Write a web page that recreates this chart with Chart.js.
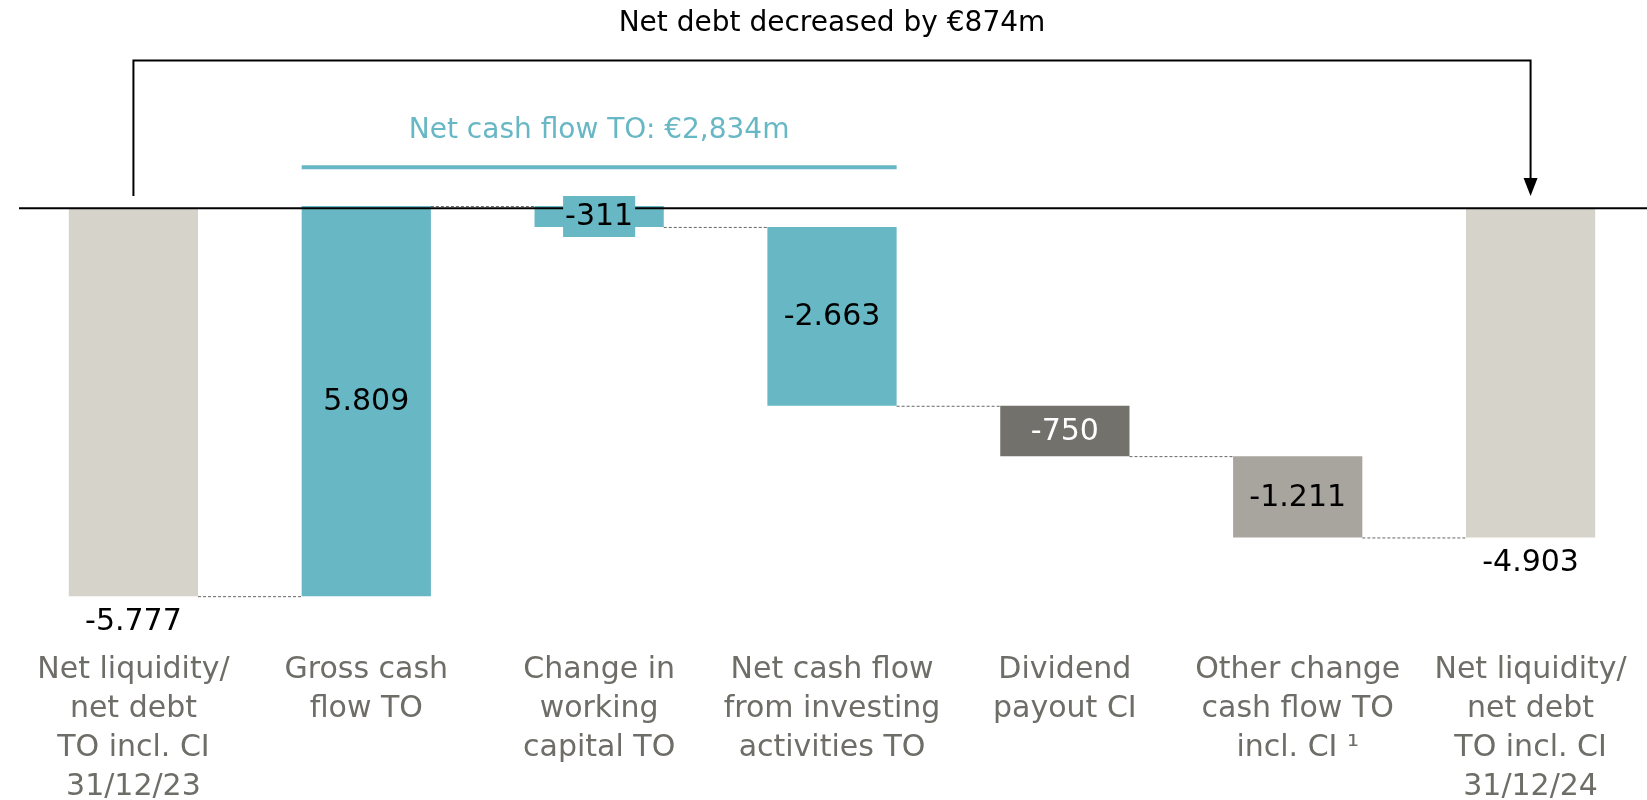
<!DOCTYPE html>
<html>
<head>
<meta charset="utf-8">
<script src="https://cdn.jsdelivr.net/npm/chart.js@4.4.1/dist/chart.umd.min.js"></script>
<style>
  html, body { margin: 0; padding: 0; background: #fff; }
  #wrap { width: 1647px; height: 800px; }
</style>
</head>
<body>
<div id="wrap"><canvas id="waterfall" width="1647" height="800"></canvas></div>
<script>
// categories (multi-line labels)
const categories = [
    ['Net liquidity/', 'net debt', 'TO incl. CI', '31/12/23'],
    ['Gross cash', 'flow TO'],
    ['Change in', 'working', 'capital TO'],
    ['Net cash flow', 'from investing', 'activities TO'],
    ['Dividend', 'payout CI'],
    ['Other change', 'cash flow TO', 'incl. CI \u00B9'],
    ['Net liquidity/', 'net debt', 'TO incl. CI', '31/12/24'],
];
// values in €m (first and last are totals)
const values = [-5777, 5809, -311, -2663, -750, -1211, -4903];
const isTotal = [true, false, false, false, false, false, true];
const barColors = ['#D6D4CA', '#67B7C4', '#67B7C4', '#67B7C4', '#73716C', '#A8A59E', '#D6D4CA'];
const labelColors = ['#000', '#000', '#000', '#000', '#fff', '#000', '#000'];

const titleText = 'Net debt decreased by \u20AC874m';
const netCashText = 'Net cash flow TO: \u20AC2,834m';

const FONT = '"DejaVu Sans", sans-serif';
const TEAL = '#67B7C4';

// build floating ranges for the waterfall
let running = 0;
const ranges = values.map((v, i) => {
    if (isTotal[i]) {
        running = v;
        return [0, v];
    }
    const start = running;
    running += v;
    return [start, running];
});

function fmt(v) {
    const s = Math.abs(v).toString().replace(/\B(?=(\d{3})+(?!\d))/g, '.');
    return (v < 0 ? '-' : '') + s;
}

const waterfallPlugin = {
    id: 'waterfallExtras',
    afterDatasetsDraw(chart) {
        const ctx = chart.ctx;
        const y = chart.scales.y;
        const area = chart.chartArea;
        const bars = chart.getDatasetMeta(0).data;
        ctx.save();

        // zero line
        ctx.strokeStyle = '#000';
        ctx.lineWidth = 2;
        ctx.beginPath();
        ctx.moveTo(area.left + 2, y.getPixelForValue(0));
        ctx.lineTo(area.right, y.getPixelForValue(0));
        ctx.stroke();

        // dashed connectors
        ctx.strokeStyle = '#666';
        ctx.lineWidth = 1;
        ctx.setLineDash([3, 2]);
        for (let i = 0; i < bars.length - 1; i++) {
            const lvl = y.getPixelForValue(ranges[i][1]) + 0.5;
            ctx.beginPath();
            ctx.moveTo(bars[i].x + bars[i].width / 2, lvl);
            ctx.lineTo(bars[i + 1].x - bars[i + 1].width / 2, lvl);
            ctx.stroke();
        }
        ctx.setLineDash([]);

        // value labels
        ctx.font = '30px ' + FONT;
        ctx.textAlign = 'center';
        ctx.textBaseline = 'middle';
        bars.forEach((bar, i) => {
            const top = Math.min(bar.y, bar.base);
            const bottom = Math.max(bar.y, bar.base);
            let ly = (top + bottom) / 2;
            if (isTotal[i]) ly = bottom + 25;
            const txt = fmt(values[i]);
            if (i === 2) {
                const w = ctx.measureText(txt).width + 4;
                ctx.fillStyle = TEAL;
                ctx.fillRect(bar.x - w / 2, ly - 20.5, w, 41);
            }
            ctx.fillStyle = labelColors[i];
            ctx.fillText(txt, bar.x, ly + 1);
        });

        // bracket: net debt change
        const x0 = bars[0].x;
        const x6 = bars[6].x;
        const yTop = y.getPixelForValue(2200);
        const yFoot = y.getPixelForValue(180);
        ctx.strokeStyle = '#000';
        ctx.lineWidth = 2;
        ctx.beginPath();
        ctx.moveTo(x0, yFoot);
        ctx.lineTo(x0, yTop);
        ctx.lineTo(x6, yTop);
        ctx.lineTo(x6, yFoot - 16);
        ctx.stroke();
        ctx.fillStyle = '#000';
        ctx.beginPath();
        ctx.moveTo(x6 - 7, yFoot - 18);
        ctx.lineTo(x6 + 7, yFoot - 18);
        ctx.lineTo(x6, yFoot);
        ctx.closePath();
        ctx.fill();

        ctx.font = '28px ' + FONT;
        ctx.fillStyle = '#000';
        ctx.fillText(titleText, (x0 + x6) / 2, y.getPixelForValue(2750));

        // net cash flow bracket line
        const xa = bars[1].x - bars[1].width / 2;
        const xb = bars[3].x + bars[3].width / 2;
        ctx.strokeStyle = TEAL;
        ctx.lineWidth = 4;
        ctx.beginPath();
        ctx.moveTo(xa, y.getPixelForValue(610));
        ctx.lineTo(xb, y.getPixelForValue(610));
        ctx.stroke();
        ctx.fillStyle = TEAL;
        ctx.fillText(netCashText, (xa + xb) / 2, y.getPixelForValue(1160));

        ctx.restore();
    }
};

const ctx = document.getElementById('waterfall').getContext('2d');
const chart = new Chart(ctx, {
    type: 'bar',
    data: {
        labels: categories,
        datasets: [{
            data: ranges,
            backgroundColor: barColors,
            borderWidth: 0,
            categoryPercentage: 1,
            barPercentage: 0.555,
        }]
    },
    options: {
        responsive: false,
        animation: false,
        layout: { padding: { left: 17, right: 0, top: 0, bottom: 0 } },
        plugins: {
            legend: { display: false },
            tooltip: { enabled: false },
        },
        scales: {
            y: {
                display: false,
                min: -6400,
                max: 3100,
            },
            x: {
                afterFit: (axis) => { axis.height = 162; },
                grid: { display: false, drawTicks: false },
                border: { display: false },
                ticks: {
                    color: '#6E6D68',
                    font: { family: FONT, size: 30, lineHeight: 1.3 },
                    padding: 13,
                    maxRotation: 0,
                    autoSkip: false,
                },
            },
        },
    },
    plugins: [waterfallPlugin],
});
</script>
</body>
</html>
